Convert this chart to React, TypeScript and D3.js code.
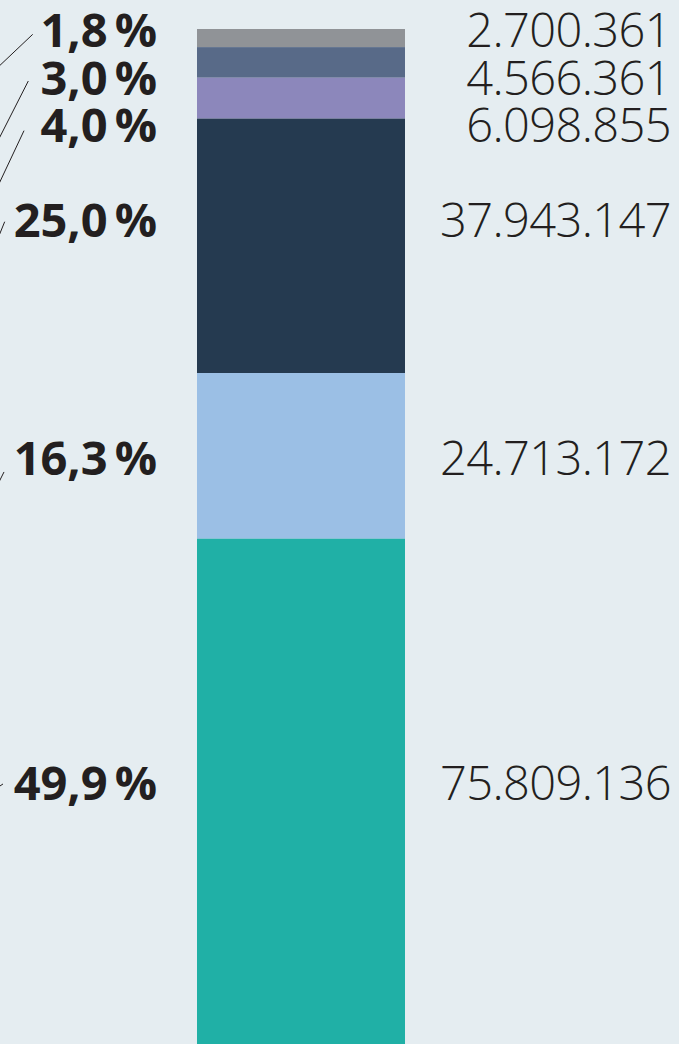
import React from "react";
import * as d3 from "d3";

const categories = ["A", "B", "C", "D", "E", "F"];
const values = [2700361, 4566361, 6098855, 37943147, 24713172, 75809136];
const percentLabels = ["1,8", "3,0", "4,0", "25,0", "16,3", "49,9"];
const colors = ["#909397", "#586a88", "#8c87bb", "#253a50", "#9bbfe5", "#20b0a6"];

// label placement adjustments (baseline offset from segment centre, px)
const labelDy = [9, 32.6, 43.8, -8.8, 19.1, 7.1];
// leader lines: start offset relative to label baseline and direction toward off-canvas pie
const leaders = [
  { x1: 32.7, dy1: -12.7, x2: -10, dy2: 27.7 },
  { x1: 28.3, dy1: -14, x2: -5, dy2: 51.5 },
  { x1: 24, dy1: -11.3, x2: -5, dy2: 50.3 },
  { x1: 4.7, dy1: -15.3, x2: -3, dy2: 3.6 },
  { x1: 4, dy1: -3, x2: -3, dy2: 11 },
  { x1: 3, dy1: -16, x2: -3, dy2: -12 },
];

const W = 679;
const H = 1044;

export default function App() {
  const total = d3.sum(values);
  const y = d3.scaleLinear().domain([0, total]).range([29, 1047]);
  const x0 = 197;
  const x1 = 405;
  const stack = values.map((v, i) => {
    const start = d3.sum(values.slice(0, i));
    return { v, i, y0: y(start), y1: y(start + v) };
  });
  const fmt = (v: number) => d3.format(",")(v).replace(/,/g, ".");
  return (
    <svg width={W} height={H} style={{ position: "absolute", left: 0, top: 0 }}>
      <rect x={0} y={0} width={W} height={H} fill="#e5edf1" />
      {stack.map((s) => (
        <rect key={categories[s.i]} x={x0} y={s.y0} width={x1 - x0} height={s.y1 - s.y0} fill={colors[s.i]} />
      ))}
      {stack.map((s) => {
        const base = (s.y0 + s.y1) / 2 + labelDy[s.i];
        const L = leaders[s.i];
        return (
          <g key={"l" + s.i}>
            <line x1={L.x1} y1={base + L.dy1} x2={L.x2} y2={base + L.dy2} stroke="#231f20" strokeWidth={1} />
            <text
              x={157}
              y={base}
              textAnchor="end"
              fontFamily="'Open Sans', sans-serif"
              fontWeight={700}
              fontSize={47}
              fill="#231f20"
            >
              {percentLabels[s.i]}
              <tspan dx={7}>%</tspan>
            </text>
            <text
              x={671}
              y={base}
              textAnchor="end"
              fontFamily="'Open Sans', sans-serif"
              fontWeight={300}
              fontSize={47}
              letterSpacing={-0.6}
              fill="#231f20"
            >
              {fmt(s.v)}
            </text>
          </g>
        );
      })}
    </svg>
  );
}
